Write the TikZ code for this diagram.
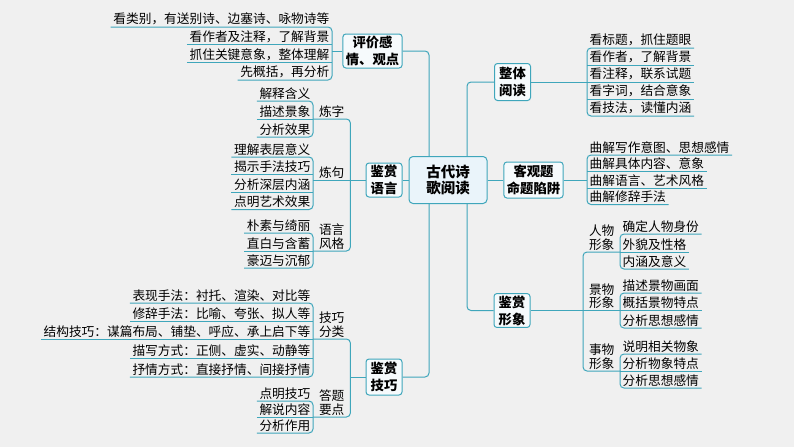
\documentclass[tikz,border=0pt]{standalone}
\usepackage{fontspec}
\setmainfont{Noto Sans CJK SC}
\usepackage{tikz}
\usetikzlibrary{backgrounds}
\definecolor{Line}{HTML}{3FA6BB}
\definecolor{Paper}{HTML}{F0F0F0}
\definecolor{BoxFill}{HTML}{F6FAFC}
\definecolor{RootFill}{HTML}{EAF4FA}

\begin{document}
\begin{tikzpicture}[
  x=1pt,y=-1pt,
  every node/.style={align=center},
  root/.style={rounded corners=4pt,draw=Line,line width=1pt,fill=RootFill,minimum width=78pt,minimum height=47pt,font=\bfseries\fontsize{14.5}{16.5}\selectfont},
  topic/.style={rounded corners=3pt,draw=Line,line width=1pt,fill=BoxFill,minimum width=36pt,minimum height=34pt,inner xsep=3pt,inner ysep=2pt,font=\bfseries\fontsize{13.3}{17}\selectfont},
  leaf/.style={inner xsep=2.5pt,inner ysep=1.5pt,font=\fontsize{12.7}{13.5}\selectfont},
  leafL/.style={leaf,anchor=south east},
  leafR/.style={leaf,anchor=south west},
  sub/.style={leaf,minimum width=37pt,anchor=south west},
  br/.style={draw=Line,line width=1pt,rounded corners=4pt}
]
\useasboundingbox (0,0) rectangle (794,447);

% centre and main topics
\node[root] (root) at (448,180) {古代诗\\歌阅读};
\node[topic] (pj) at (372.5,51) {评价感\\情、观点};
\node[topic] (jsyy) at (384,180) {鉴赏\\语言};
\node[topic,minimum height=36pt] (jsjq) at (384,377) {鉴赏\\技巧};
\node[topic,minimum height=37pt] (ztyd) at (512.5,82) {整体\\阅读};
\node[topic,minimum height=36pt] (kgt) at (533.5,180) {客观题\\命题陷阱};
\node[topic,minimum height=33pt] (jsxx) at (512,310.5) {鉴赏\\形象};
\coordinate (trunkL) at (429,0);
\coordinate (trunkR) at (467,0);

% 评价感情、观点
\node[leafL] (pj1) at (332,27) {看类别，有送别诗、边塞诗、咏物诗等};
\node[leafL] (pj2) at (332,44.7) {看作者及注释，了解背景};
\node[leafL] (pj3) at (332,62.3) {抓住关键意象，整体理解};
\node[leafL] (pj4) at (332,80) {先概括，再分析};

% 鉴赏语言
\node[sub] (lz) at (313,119) {炼字};
\node[sub] (lj) at (313,180) {炼句};
\node[sub] (yyfg) at (313,251) {语言\\风格};
\node[leafL] (lz1) at (313,101) {解释含义};
\node[leafL] (lz2) at (313,119) {描述景象};
\node[leafL] (lz3) at (313,137) {分析效果};
\node[leafL] (lj1) at (313,157) {理解表层意义};
\node[leafL] (lj2) at (313,174.5) {揭示手法技巧};
\node[leafL] (lj3) at (313,192) {分析深层内涵};
\node[leafL] (lj4) at (313,209.5) {点明艺术效果};
\node[leafL] (fg1) at (313,233) {朴素与绮丽};
\node[leafL] (fg2) at (313,251) {直白与含蓄};
\node[leafL] (fg3) at (313,268) {豪迈与沉郁};

% 鉴赏技巧
\node[sub] (jqfl) at (313,339) {技巧\\分类};
\node[sub] (dtyd) at (313,417) {答题\\要点};
\node[leafL] (fl1) at (313,303) {表现手法：衬托、渲染、对比等};
\node[leafL] (fl2) at (313,321) {修辞手法：比喻、夸张、拟人等};
\node[leafL] (fl3) at (313,339) {结构技巧：谋篇布局、铺垫、呼应、承上启下等};
\node[leafL] (fl4) at (313,358) {描写方式：正侧、虚实、动静等};
\node[leafL] (fl5) at (313,377) {抒情方式：直接抒情、间接抒情};
\node[leafL] (yd1) at (313,401) {点明技巧};
\node[leafL] (yd2) at (313,417) {解说内容};
\node[leafL] (yd3) at (313,433) {分析作用};

% 整体阅读
\node[leafR] (zt1) at (587,48) {看标题，抓住题眼};
\node[leafR] (zt2) at (587,65) {看作者，了解背景};
\node[leafR] (zt3) at (587,82) {看注释，联系试题};
\node[leafR] (zt4) at (587,99) {看字词，结合意象};
\node[leafR] (zt5) at (587,116) {看技法，读懂内涵};

% 客观题命题陷阱
\node[leafR] (kg1) at (587,155) {曲解写作意图、思想感情};
\node[leafR] (kg2) at (587,171.5) {曲解具体内容、意象};
\node[leafR] (kg3) at (587,188) {曲解语言、艺术风格};
\node[leafR] (kg4) at (587,204.5) {曲解修辞手法};

% 鉴赏形象
\node[sub] (rwxx) at (583,252) {人物\\形象};
\node[sub] (jwxx) at (583,310.5) {景物\\形象};
\node[sub] (swxx) at (583,371) {事物\\形象};
\node[leafR] (rw1) at (620,234) {确定人物身份};
\node[leafR] (rw2) at (620,252) {外貌及性格};
\node[leafR] (rw3) at (620,269) {内涵及意义};
\node[leafR] (jw1) at (620,293) {描述景物画面};
\node[leafR] (jw2) at (620,310.5) {概括景物特点};
\node[leafR] (jw3) at (620,328) {分析思想感情};
\node[leafR] (sw1) at (620,354) {说明相关物象};
\node[leafR] (sw2) at (620,371) {分析物象特点};
\node[leafR] (sw3) at (620,388) {分析思想感情};

\begin{scope}[on background layer]
\fill[Paper] (0,0) rectangle (794,447);
% trunks
\draw[br] (pj.east) -- (pj.east -| trunkL) -- (jsjq.east -| trunkL) -- (jsjq.east);
\draw[br] (jsyy.east) -- (jsyy.east -| root.west);
\draw[br] (ztyd.west) -- (ztyd.west -| trunkR) -- (jsxx.west -| trunkR) -- (jsxx.west);
\draw[br] (root.east) -- (root.east -| kgt.west);
% left brackets
\draw[br] (pj1.south west) -- (pj1.south east) -- (pj4.south east) -- (pj4.south west);
\draw[br] (pj2.south west) -- (pj2.south east);
\draw[br] (pj3.south west) -- (pj3.south east);
\draw[br] (pj.west) -- (pj.west -| pj1.south east);

\draw[br] (lz.south west) -- (lz.south east) -- (yyfg.south east) -- (yyfg.south west);
\draw[br] (lj.south west) -- (lj.south east);
\draw[br] (jsyy.west) -- (jsyy.west -| lz.south east);
\draw[br] (lz1.south west) -- (lz1.south east) -- (lz3.south east) -- (lz3.south west);
\draw[br] (lz2.south west) -- (lz2.south east);
\draw[br] (lj1.south west) -- (lj1.south east) -- (lj4.south east) -- (lj4.south west);
\draw[br] (lj2.south west) -- (lj2.south east);
\draw[br] (lj3.south west) -- (lj3.south east);
\draw[br] (fg1.south west) -- (fg1.south east) -- (fg3.south east) -- (fg3.south west);
\draw[br] (fg2.south west) -- (fg2.south east);

\draw[br] (jqfl.south west) -- (jqfl.south east) -- (dtyd.south east) -- (dtyd.south west);
\draw[br] (jsjq.west) -- (jsjq.west -| jqfl.south east);
\draw[br] (fl1.south west) -- (fl1.south east) -- (fl5.south east) -- (fl5.south west);
\draw[br] (fl2.south west) -- (fl2.south east);
\draw[br] (fl3.south west) -- (fl3.south east);
\draw[br] (fl4.south west) -- (fl4.south east);
\draw[br] (yd1.south west) -- (yd1.south east) -- (yd3.south east) -- (yd3.south west);
\draw[br] (yd2.south west) -- (yd2.south east);

% right brackets
\draw[br] (zt1.south east) -- (zt1.south west) -- (zt5.south west) -- (zt5.south east);
\draw[br] (zt2.south west) -- (zt2.south east);
\draw[br] (zt3.south west) -- (zt3.south east);
\draw[br] (zt4.south west) -- (zt4.south east);
\draw[br] (ztyd.east) -- (ztyd.east -| zt1.south west);

\draw[br] (kg1.south east) -- (kg1.south west) -- (kg4.south west) -- (kg4.south east);
\draw[br] (kg2.south west) -- (kg2.south east);
\draw[br] (kg3.south west) -- (kg3.south east);
\draw[br] (kgt.east) -- (kgt.east -| kg1.south west);

\draw[br] (rwxx.south east) -- (rwxx.south west) -- (swxx.south west) -- (swxx.south east);
\draw[br] (jwxx.south west) -- (jwxx.south east);
\draw[br] (jsxx.east) -- (jsxx.east -| rwxx.south west);
\draw[br] (rw1.south east) -- (rw1.south west) -- (rw3.south west) -- (rw3.south east);
\draw[br] (rw2.south west) -- (rw2.south east);
\draw[br] (jw1.south east) -- (jw1.south west) -- (jw3.south west) -- (jw3.south east);
\draw[br] (jw2.south west) -- (jw2.south east);
\draw[br] (sw1.south east) -- (sw1.south west) -- (sw3.south west) -- (sw3.south east);
\draw[br] (sw2.south west) -- (sw2.south east);
\end{scope}
\end{tikzpicture}
\end{document}
